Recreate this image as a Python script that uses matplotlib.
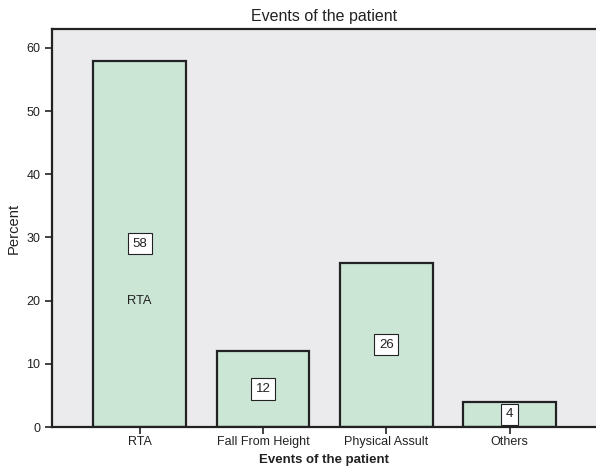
import matplotlib
matplotlib.use("Agg")
import matplotlib.pyplot as plt

categories = ["RTA", "Fall From Height", "Physical Assult", "Others"]
values = [58, 12, 26, 4]

plt.rcParams['font.family'] = ['Liberation Sans', 'DejaVu Sans']

fig = plt.figure(figsize=(5.96, 4.74), dpi=100)
ax = fig.add_axes([52/596, 47/474, (596-52)/596, (427-29)/474])
ax.set_facecolor('#EBEBEE')
x = list(range(len(categories)))
ax.bar(x, values, width=0.75, color='#CCE6D6', edgecolor='#222222', linewidth=1.6, zorder=2)
for xi, v in zip(x, values):
    ax.text(xi, v/2, str(v), ha='center', va='center', fontsize=9.5, color='#222222', zorder=3,
            bbox=dict(boxstyle='square,pad=0.35', facecolor='white', edgecolor='#222222', linewidth=0.8))
ax.text(0, 20, "RTA", ha='center', va='center', fontsize=9.3, color='#222222', zorder=3)

ax.set_xlim(-0.71, 3.70)
ax.set_ylim(0, 63)
ax.set_xticks(x)
ax.set_xticklabels(categories, fontsize=9.3, color='#222222')
ax.set_yticks([0, 10, 20, 30, 40, 50, 60])
ax.tick_params(axis='both', labelsize=9, colors='#222222', length=5, width=1.2)
ax.tick_params(axis='x', pad=1.5)
for s in ['left', 'bottom', 'top']:
    ax.spines[s].set_linewidth(1.6)
    ax.spines[s].set_color('#222222')
ax.spines['right'].set_visible(False)
ax.set_xlabel("Events of the patient", fontsize=9.5, fontweight='bold', color='#222222', labelpad=4)
ax.set_ylabel("Percent", fontsize=10.6, color='#222222', labelpad=4)
ax.set_title("Events of the patient", fontsize=11.5, color='#222222', pad=6)

fig.savefig("out.png", dpi=100)
